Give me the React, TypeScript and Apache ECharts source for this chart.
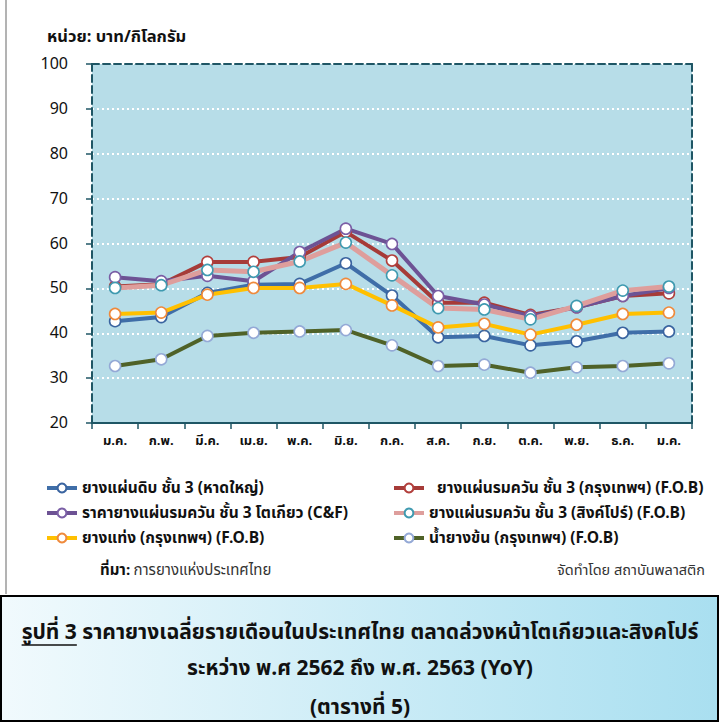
import React, { useEffect, useRef } from "react";
import * as echarts from "echarts";

const months = ["ม.ค.", "ก.พ.", "มี.ค.", "เม.ย.", "พ.ค.", "มิ.ย.", "ก.ค.", "ส.ค.", "ก.ย.", "ต.ค.", "พ.ย.", "ธ.ค.", "ม.ค."];

const nameHatyai = "ยางแผ่นดิบ ชั้น 3 (หาดใหญ่)";
const nameRssBkk = "  ยางแผ่นรมควัน ชั้น 3 (กรุงเทพฯ) (F.O.B)";
const nameRssTokyo = "ราคายางแผ่นรมควัน ชั้น 3 โตเกียว (C&F)";
const nameRssSgp = "ยางแผ่นรมควัน ชั้น 3 (สิงค์โปร์) (F.O.B)";
const nameStrBkk = "ยางแท่ง (กรุงเทพฯ) (F.O.B)";
const nameLatexBkk = "น้ำยางข้น (กรุงเทพฯ) (F.O.B)";

const usshHatyai = [42.7, 43.6, 49.0, 50.8, 51.0, 55.6, 48.4, 39.1, 39.4, 37.3, 38.2, 40.1, 40.4];
const rssBangkok = [50.4, 50.9, 55.9, 55.9, 57.0, 62.6, 56.2, 46.8, 46.8, 44.1, 45.8, 48.3, 48.9];
const rssTokyo = [52.5, 51.6, 52.8, 51.6, 58.1, 63.3, 59.9, 48.3, 46.4, 43.8, 45.8, 48.3, 50.1];
const rssSingapore = [50.1, 50.7, 54.1, 53.7, 56.0, 60.2, 52.9, 45.6, 45.3, 43.1, 46.1, 49.5, 50.4];
const strBangkok = [44.3, 44.6, 48.6, 50.1, 50.1, 51.0, 46.2, 41.3, 42.1, 39.7, 41.9, 44.3, 44.6];
const latexBangkok = [32.7, 34.2, 39.4, 40.1, 40.4, 40.7, 37.3, 32.7, 33.0, 31.2, 32.4, 32.7, 33.3];

const FONT = "Tahoma, 'Noto Sans Thai', 'Noto Sans', 'DejaVu Sans', sans-serif";
const AXIS_COLOR = "#1f5665";

function mkSeries(name: string, data: number[], lineColor: string, markerColor: string, width = 4) {
  return {
    name,
    type: "line",
    data,
    symbol: "circle",
    symbolSize: 11,
    showSymbol: true,
    lineStyle: { color: lineColor, width },
    itemStyle: { color: "#ffffff", borderColor: markerColor, borderWidth: 1.6 },
    emphasis: { disabled: true },
  };
}

export default function App() {
  const ref = useRef<HTMLDivElement>(null);
  useEffect(() => {
    if (!ref.current) return;
    const chart = echarts.init(ref.current, undefined, { renderer: "svg" });

    const titleFont = `bold 21px ${FONT}`;
    const part1 = "รูปที่ 3";
    const part2 = " ราคายางเฉลี่ยรายเดือนในประเทศไทย ตลาดล่วงหน้าโตเกียวและสิงคโปร์";
    const ctx = document.createElement("canvas").getContext("2d")!;
    ctx.font = titleFont;
    const w1 = ctx.measureText(part1).width;
    const w2 = ctx.measureText(part2).width;
    const startX = 360 - (w1 + w2) / 2;

    const legendText = { fontSize: 15.5, color: "#111", fontFamily: FONT, fontWeight: "bold" as const };
    const legendBase = {
      top: 480,
      padding: 0,
      orient: "vertical",
      itemGap: 9,
      itemWidth: 30,
      itemHeight: 11,
      lineStyle: { width: 4 },
      textStyle: legendText,
    };

    chart.setOption({
      animation: false,
      backgroundColor: "#ffffff",
      textStyle: { fontFamily: FONT },
      grid: {
        left: 92,
        right: 27,
        top: 64,
        bottom: 299,
        show: true,
        backgroundColor: "#b7dde8",
        borderWidth: 0,
      },
      legend: [
        { ...legendBase, left: 45, data: [nameHatyai, nameRssTokyo, nameStrBkk] },
        { ...legendBase, left: 392, data: [nameRssBkk, nameRssSgp, nameLatexBkk] },
      ],
      xAxis: [
        {
          type: "category",
          data: months,
          boundaryGap: true,
          axisLine: { show: true, lineStyle: { color: AXIS_COLOR, width: 2 } },
          axisTick: { show: true, length: 6, lineStyle: { color: AXIS_COLOR, width: 1.5 } },
          axisLabel: { fontSize: 13, fontWeight: "bold", color: "#111", margin: 11, fontFamily: FONT },
          splitLine: { show: false },
        },
        {
          type: "category",
          data: months,
          position: "top",
          axisLine: { show: true, lineStyle: { color: AXIS_COLOR, width: 2, type: [7, 4] } },
          axisTick: { show: false },
          axisLabel: { show: false },
        },
      ],
      yAxis: [
        {
          type: "value",
          min: 20,
          max: 100,
          interval: 10,
          axisLine: { show: true, lineStyle: { color: AXIS_COLOR, width: 2, type: [7, 4] } },
          axisTick: { show: true, length: 6, lineStyle: { color: AXIS_COLOR, width: 1.5 } },
          axisLabel: { fontSize: 16, color: "#111", margin: 24, fontFamily: FONT },
          splitLine: { show: true, lineStyle: { color: "#ffffff", width: 2, type: [2, 3] } },
        },
        {
          type: "value",
          min: 20,
          max: 100,
          interval: 10,
          position: "right",
          axisLine: { show: true, lineStyle: { color: AXIS_COLOR, width: 2, type: [7, 4] } },
          axisTick: { show: false },
          axisLabel: { show: false },
          splitLine: { show: false },
        },
      ],
      series: [
        mkSeries(nameHatyai, usshHatyai, "#3f6ea8", "#3a64a0"),
        mkSeries(nameRssBkk, rssBangkok, "#a63b38", "#b23f3c"),
        mkSeries(nameRssTokyo, rssTokyo, "#6d5294", "#7a5ea5"),
        mkSeries(nameRssSgp, rssSingapore, "#de9e9c", "#3f9ab0", 5),
        mkSeries(nameStrBkk, strBangkok, "#ffc000", "#ef8a3c"),
        mkSeries(nameLatexBkk, latexBangkok, "#4f6228", "#94a9d6"),
      ],
      graphic: [
        {
          type: "line",
          shape: { x1: 6, y1: 0, x2: 6, y2: 594 },
          style: { stroke: "#9a9a9a", lineWidth: 1.5 },
        },
        {
          type: "text",
          left: 47,
          top: 28,
          style: { text: "หน่วย: บาท/กิโลกรัม", font: `bold 16.5px ${FONT}`, fill: "#111" },
        },
        {
          type: "text",
          left: 100,
          top: 563,
          style: {
            text: "{b|ที่มา:} {n|การยางแห่งประเทศไทย}",
            rich: {
              b: { font: `bold 15px ${FONT}`, fill: "#111" },
              n: { font: `15px ${FONT}`, fill: "#333" },
            },
          },
        },
        {
          type: "text",
          right: 14,
          top: 563,
          style: { text: "จัดทำโดย สถาบันพลาสติก", font: `14.5px ${FONT}`, fill: "#333" },
        },
        {
          type: "rect",
          shape: { x: 1, y: 596, width: 717, height: 125 },
          style: {
            fill: new echarts.graphic.LinearGradient(0, 0, 1, 0, [
              { offset: 0, color: "#f1fafd" },
              { offset: 1, color: "#a9dff0" },
            ]),
            stroke: "#000000",
            lineWidth: 2,
          },
        },
        {
          type: "text",
          x: startX,
          y: 632,
          style: {
            text: part1,
            font: titleFont,
            fill: "#111",
            textAlign: "left",
            textVerticalAlign: "middle",
          },
        },
        {
          type: "line",
          shape: { x1: startX, y1: 645, x2: startX + w1, y2: 645 },
          style: { stroke: "#111", lineWidth: 1.5 },
        },
        {
          type: "text",
          x: startX + w1,
          y: 632,
          style: {
            text: part2,
            font: titleFont,
            fill: "#111",
            textAlign: "left",
            textVerticalAlign: "middle",
          },
        },
        {
          type: "text",
          x: 360,
          y: 668,
          style: {
            text: "ระหว่าง พ.ศ 2562 ถึง พ.ศ. 2563 (YoY)",
            font: titleFont,
            fill: "#111",
            textAlign: "center",
            textVerticalAlign: "middle",
          },
        },
        {
          type: "text",
          x: 360,
          y: 707,
          style: {
            text: "(ตารางที่ 5)",
            font: titleFont,
            fill: "#111",
            textAlign: "center",
            textVerticalAlign: "middle",
          },
        },
      ],
    });
    return () => chart.dispose();
  }, []);
  return (
    <div
      ref={ref}
      style={{ position: "absolute", left: 0, top: 0, width: 719, height: 722 }}
    />
  );
}
